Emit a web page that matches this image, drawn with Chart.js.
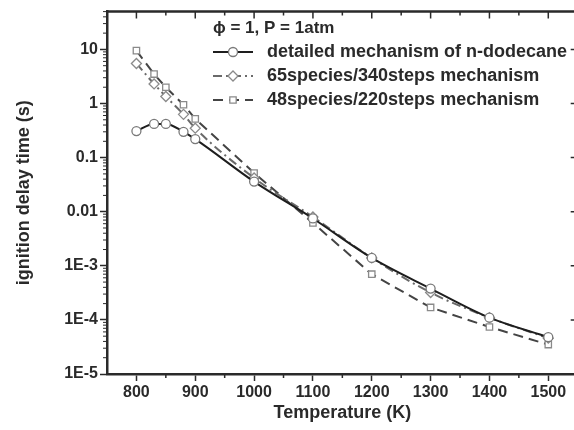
<!DOCTYPE html>
<html>
<head>
<meta charset="utf-8">
<script src="https://cdn.jsdelivr.net/npm/chart.js@4.4.1/dist/chart.umd.min.js"></script>
<style>
    body { margin: 0; overflow: hidden; background: #fff; }
    #wrap { width: 584px; height: 430px; }
</style>
</head>
<body>
<div id="wrap"><canvas id="ignitionChart" width="584" height="430"></canvas></div>
<script>
// temperatures (K)
const temps = [800, 830, 850, 880, 900, 1000, 1100, 1200, 1300, 1400, 1500];
// ignition delay time (s)
const detailed = [0.31, 0.42, 0.42, 0.30, 0.22, 0.036, 0.0075, 0.0014, 3.8e-4, 1.1e-4, 4.8e-5];
const species65 = [5.5, 2.3, 1.35, 0.63, 0.35, 0.042, 0.0080, 0.0014, 3.2e-4, 1.1e-4, 4.6e-5];
const species48 = [9.5, 3.5, 2.0, 0.95, 0.52, 0.052, 0.0062, 0.0007, 1.7e-4, 7.4e-5, 3.5e-5];

const seriesNames = ['detailed mechanism of n-dodecane', '65species/340steps mechanism', '48species/220steps mechanism'];
const legendTitle = 'ϕ = 1, P = 1atm';

const xTicks = [800, 900, 1000, 1100, 1200, 1300, 1400, 1500];
const yTicks = [1e-5, 1e-4, 1e-3, 0.01, 0.1, 1, 10];
const yTickLabels = ['1E-5', '1E-4', '1E-3', '0.01', '0.1', '1', '10'];

const FONT = '"Liberation Sans", Arial, sans-serif';
const INK = '#2a2a2a';

function points(values) {
    return temps.map((t, i) => ({x: t, y: values[i]}));
}

// frame, mirror ticks, minor ticks
const framePlugin = {
    id: 'frame',
    afterDraw(chart) {
        const ctx = chart.ctx;
        const a = chart.chartArea;
        const xs = chart.scales.x;
        const ys = chart.scales.y;
        ctx.save();
        ctx.strokeStyle = INK;
        ctx.lineWidth = 2.5;
        ctx.beginPath();
        ctx.moveTo(a.left, a.top);
        ctx.lineTo(a.right, a.top);
        ctx.lineTo(a.right, a.bottom);
        ctx.stroke();

        ctx.lineWidth = 1.5;
        ctx.beginPath();
        xTicks.forEach(v => {
            const px = xs.getPixelForValue(v);
            ctx.moveTo(px, a.top);
            ctx.lineTo(px, a.top + 7);
        });
        for (let v = 850; v < 1550; v += 100) {
            const px = xs.getPixelForValue(v);
            ctx.moveTo(px, a.top);
            ctx.lineTo(px, a.top + 4);
            ctx.moveTo(px, a.bottom);
            ctx.lineTo(px, a.bottom + 4);
        }
        yTicks.forEach(v => {
            const py = ys.getPixelForValue(v);
            ctx.moveTo(a.right, py);
            ctx.lineTo(a.right - 7, py);
        });
        ctx.stroke();

        ctx.lineWidth = 1;
        ctx.beginPath();
        yTicks.forEach(d => {
            for (let k = 2; k <= 9; k++) {
                const v = k * d;
                if (v > ys.max) break;
                const py = ys.getPixelForValue(v);
                ctx.moveTo(a.left, py);
                ctx.lineTo(a.left - 4, py);
            }
        });
        ctx.stroke();
        ctx.restore();
    }
};

// legend drawn inside the plot area
const legendPlugin = {
    id: 'insideLegend',
    afterDraw(chart) {
        const ctx = chart.ctx;
        const x0 = 213, x1 = 253, tx = 267;
        const rows = [52, 76, 100];
        ctx.save();
        ctx.fillStyle = INK;
        ctx.textBaseline = 'middle';
        ctx.font = 'bold 17px ' + FONT;
        ctx.fillText(legendTitle, x0, 28);
        ctx.font = 'bold 18px ' + FONT;
        chart.data.datasets.forEach((ds, i) => {
            const y = rows[i];
            ctx.strokeStyle = ds.borderColor;
            ctx.lineWidth = ds.borderWidth;
            ctx.setLineDash(ds.borderDash || []);
            ctx.beginPath();
            ctx.moveTo(x0, y);
            ctx.lineTo(x1, y);
            ctx.stroke();
            ctx.setLineDash([]);
            ctx.fillStyle = ds.pointBackgroundColor;
            ctx.strokeStyle = ds.pointBorderColor;
            ctx.lineWidth = ds.pointBorderWidth;
            Chart.helpers.drawPoint(ctx, {
                pointStyle: ds.pointStyle,
                radius: ds.pointRadius,
                rotation: 0,
                borderWidth: ds.pointBorderWidth
            }, (x0 + x1) / 2, y);
            ctx.fillStyle = INK;
            ctx.fillText(seriesNames[i], tx, y);
        });
        ctx.restore();
    }
};

const ctx = document.getElementById('ignitionChart');

new Chart(ctx, {
    type: 'line',
    data: {
        datasets: [{
            label: seriesNames[0],
            data: points(detailed),
            borderColor: '#1e1e1e',
            borderWidth: 2,
            pointStyle: 'circle',
            pointRadius: 4.5,
            pointBorderColor: '#7a7a7a',
            pointBorderWidth: 1.3,
            pointBackgroundColor: '#fff',
            cubicInterpolationMode: 'monotone'
        }, {
            label: seriesNames[1],
            data: points(species65),
            borderColor: '#6a6a6a',
            borderWidth: 2,
            borderDash: [9, 4, 2, 4],
            pointStyle: 'rectRot',
            pointRadius: 5,
            pointBorderColor: '#8a8a8a',
            pointBorderWidth: 1.3,
            pointBackgroundColor: '#fff',
            cubicInterpolationMode: 'monotone'
        }, {
            label: seriesNames[2],
            data: points(species48),
            borderColor: '#444',
            borderWidth: 2,
            borderDash: [10, 6],
            pointStyle: 'rect',
            pointRadius: 4.5,
            pointBorderColor: '#8a8a8a',
            pointBorderWidth: 1.3,
            pointBackgroundColor: '#fff',
            tension: 0
        }]
    },
    options: {
        responsive: false,
        animation: false,
        layout: { padding: { left: 0, top: 6, right: 5, bottom: 0 } },
        plugins: {
            legend: { display: false },
            tooltip: { enabled: false }
        },
        scales: {
            x: {
                type: 'linear',
                min: 750,
                max: 1550,
                afterFit: scale => { scale.height = 56; },
                afterBuildTicks: scale => { scale.ticks = xTicks.map(v => ({value: v})); },
                grid: { drawOnChartArea: false, tickLength: 7, tickWidth: 1.5, tickColor: INK },
                border: { color: INK, width: 2.5 },
                ticks: {
                    color: INK,
                    padding: 2,
                    font: { family: FONT, size: 16, weight: 'bold' },
                    callback: v => String(v)
                },
                title: {
                    display: true,
                    text: 'Temperature (K)',
                    color: INK,
                    padding: { top: 0, bottom: 6 },
                    font: { family: FONT, size: 18, weight: 'bold' }
                }
            },
            y: {
                type: 'logarithmic',
                min: 1e-5,
                max: 50,
                afterFit: scale => { scale.width = 107; },
                afterBuildTicks: scale => { scale.ticks = yTicks.map(v => ({value: v})); },
                grid: { drawOnChartArea: false, tickLength: 7, tickWidth: 1.5, tickColor: INK },
                border: { color: INK, width: 2.5 },
                ticks: {
                    color: INK,
                    padding: 2,
                    font: { family: FONT, size: 16, weight: 'bold' },
                    callback: (v) => {
                        const i = yTicks.findIndex(t => Math.abs(t - v) / t < 1e-6);
                        return i >= 0 ? yTickLabels[i] : '';
                    }
                },
                title: {
                    display: true,
                    text: 'ignition delay time (s)',
                    color: INK,
                    padding: { top: 13, bottom: 0 },
                    font: { family: FONT, size: 18, weight: 'bold' }
                }
            }
        }
    },
    plugins: [framePlugin, legendPlugin]
});
</script>
</body>
</html>
